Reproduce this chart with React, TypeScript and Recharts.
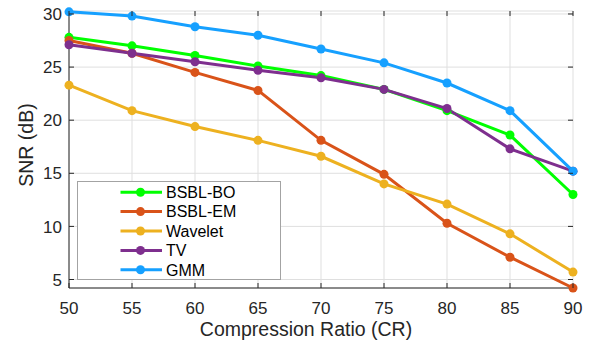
import React from 'react';
import {
  LineChart,
  Line,
  XAxis,
  YAxis,
  CartesianGrid,
  Legend,
  Label,
} from 'recharts';

// Compression ratios (x) and reconstruction SNR in dB for each method
const CR = [50, 55, 60, 65, 70, 75, 80, 85, 90];
const BSBL_BO = [27.8, 27.0, 26.1, 25.1, 24.2, 22.9, 20.9, 18.6, 13.0];
const BSBL_EM = [27.5, 26.3, 24.5, 22.8, 18.1, 14.9, 10.3, 7.1, 4.2];
const WAVELET = [23.3, 20.9, 19.4, 18.1, 16.6, 14.0, 12.1, 9.3, 5.7];
const TV = [27.1, 26.3, 25.5, 24.7, 24.0, 22.9, 21.1, 17.3, 15.2];
const GMM = [30.2, 29.8, 28.8, 28.0, 26.7, 25.4, 23.5, 20.9, 15.2];

const X_TICKS = [50, 55, 60, 65, 70, 75, 80, 85, 90];
const Y_TICKS = [5, 10, 15, 20, 25, 30];
const Y_DOMAIN = [4.2, 30.28];

const SERIES = [
  { key: 'bo', name: 'BSBL-BO', color: '#00ff00', values: BSBL_BO },
  { key: 'em', name: 'BSBL-EM', color: '#d95319', values: BSBL_EM },
  { key: 'wav', name: 'Wavelet', color: '#edb120', values: WAVELET },
  { key: 'tv', name: 'TV', color: '#7e2f8e', values: TV },
  { key: 'gmm', name: 'GMM', color: '#16a0ff', values: GMM },
];

const data = CR.map((cr, i) => {
  const row: Record<string, number> = { cr };
  SERIES.forEach(s => {
    row[s.key] = s.values[i];
  });
  return row;
});

const W = 601;
const H = 341;
const PLOT_LEFT = 69;
const PLOT_RIGHT = 573;
const PLOT_TOP = 11;
const PLOT_BOTTOM = 288;
const TICK_LEN = 5;
const INK = '#262626';
const FONT = '"Liberation Sans", Arial, Helvetica, sans-serif';

const XTick = (props: any) => {
  const { x, payload } = props;
  return (
    <g>
      <line x1={x} x2={x} y1={PLOT_BOTTOM} y2={PLOT_BOTTOM - TICK_LEN} stroke={INK} />
      <line x1={x} x2={x} y1={PLOT_TOP} y2={PLOT_TOP + TICK_LEN} stroke={INK} />
      <text x={x} y={314} textAnchor="middle" fontSize={17} fill={INK} fontFamily={FONT}>
        {payload.value}
      </text>
    </g>
  );
};

const YTick = (props: any) => {
  const { y, payload } = props;
  return (
    <g>
      <line x1={PLOT_LEFT} x2={PLOT_LEFT + TICK_LEN} y1={y} y2={y} stroke={INK} />
      <line x1={PLOT_RIGHT} x2={PLOT_RIGHT - TICK_LEN} y1={y} y2={y} stroke={INK} />
      <text x={62} y={y} dy="0.36em" textAnchor="end" fontSize={17} fill={INK} fontFamily={FONT}>
        {payload.value}
      </text>
    </g>
  );
};

// Legend entries follow the plotting order, not alphabetical
const LegendBox = () => (
  <svg width={204} height={99} style={{ display: 'block' }}>
    <rect x={0.5} y={0.5} width={203} height={98} fill="#fff" stroke="#a3a3a3" />
    {SERIES.map((s, i) => {
      const cy = 11.2 + i * 19.4;
      return (
        <g key={s.key}>
          <line x1={43.5} x2={85} y1={cy} y2={cy} stroke={s.color} strokeWidth={3} />
          <circle cx={63.5} cy={cy} r={4.5} fill={s.color} />
          <text x={89} y={cy} dy="0.36em" fontSize={16} fill="#000" fontFamily={FONT}>
            {s.name}
          </text>
        </g>
      );
    })}
  </svg>
);

export default function App() {
  return (
    <div style={{ position: 'fixed', left: 0, top: 0, background: '#fff' }}>
      <LineChart
        width={W}
        height={H}
        data={data}
        margin={{ top: PLOT_TOP, right: W - PLOT_RIGHT, bottom: 0, left: 0 }}
      >
        <CartesianGrid stroke="#dfdfdf" />
        <XAxis
          dataKey="cr"
          type="number"
          domain={[50, 90]}
          ticks={X_TICKS}
          height={H - PLOT_BOTTOM}
          tickSize={0}
          tick={<XTick />}
          tickLine={false}
          axisLine={{ stroke: INK }}
          interval={0}
        >
          <Label
            content={() => (
              <text x={306} y={336} textAnchor="middle" fontSize={19.5} fill={INK} fontFamily={FONT}>
                Compression Ratio (CR)
              </text>
            )}
          />
        </XAxis>
        <XAxis
          xAxisId="top"
          orientation="top"
          type="number"
          dataKey="cr"
          domain={[50, 90]}
          height={0}
          tick={false}
          tickLine={false}
          axisLine={{ stroke: INK }}
        />
        <YAxis
          type="number"
          domain={Y_DOMAIN}
          ticks={Y_TICKS}
          width={PLOT_LEFT}
          tickSize={0}
          tick={<YTick />}
          tickLine={false}
          axisLine={{ stroke: INK }}
          interval={0}
        >
          <Label
            content={() => (
              <text
                x={33}
                y={145}
                transform="rotate(-90 33 145)"
                textAnchor="middle"
                fontSize={19.5}
                fill={INK}
                fontFamily={FONT}
              >
                SNR (dB)
              </text>
            )}
          />
        </YAxis>
        <YAxis
          yAxisId="right"
          orientation="right"
          type="number"
          domain={Y_DOMAIN}
          width={0}
          tick={false}
          tickLine={false}
          axisLine={{ stroke: INK }}
        />
        {SERIES.map(s => (
          <Line
            key={s.key}
            dataKey={s.key}
            name={s.name}
            stroke={s.color}
            strokeWidth={3}
            dot={{ r: 4.5, fill: s.color, stroke: s.color, strokeWidth: 0 }}
            activeDot={false}
            isAnimationActive={false}
          />
        ))}
        <Legend
          layout="vertical"
          align="center"
          verticalAlign="middle"
          content={<LegendBox />}
          wrapperStyle={{ left: 76.5, top: 180.5, width: 204, height: 99 }}
        />
      </LineChart>
    </div>
  );
}
